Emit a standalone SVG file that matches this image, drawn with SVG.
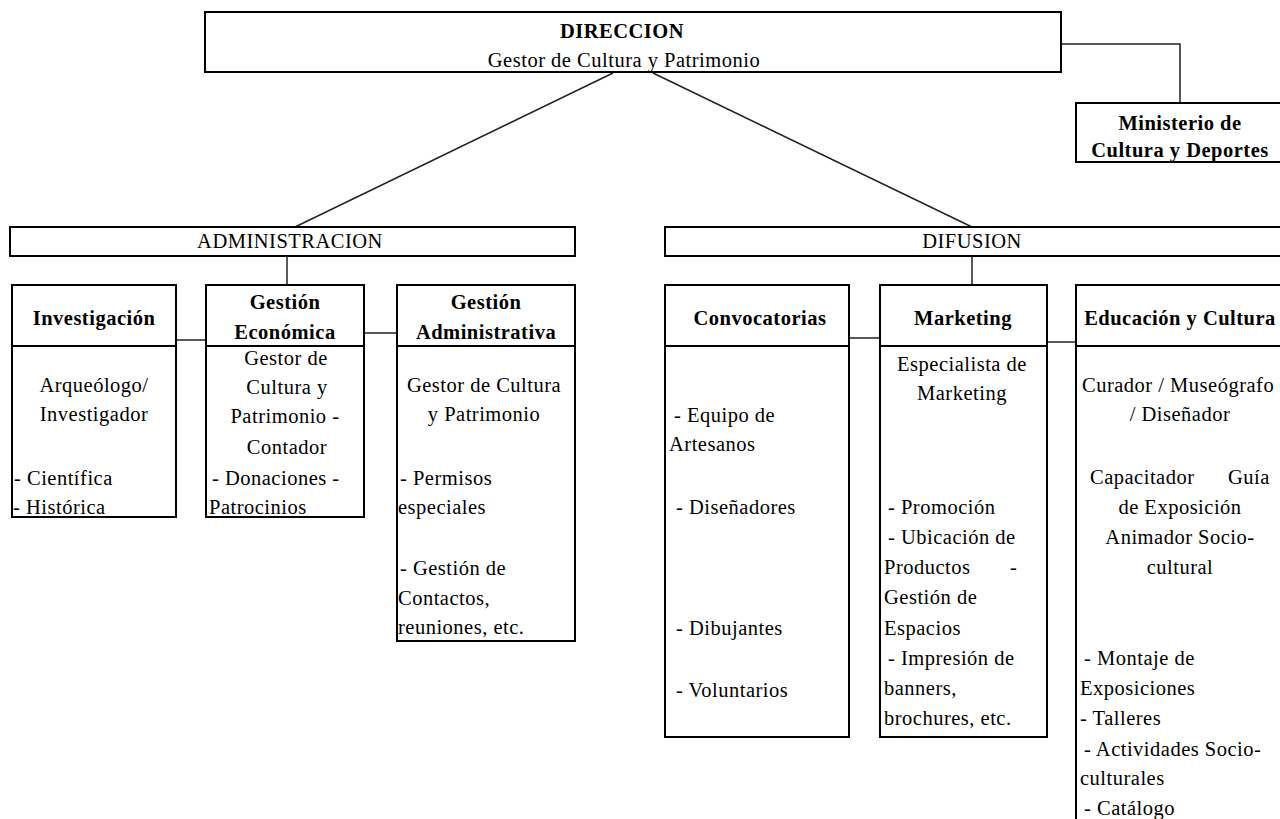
<svg xmlns="http://www.w3.org/2000/svg" width="1280" height="819" viewBox="0 0 1280 819">
<style>
.box{fill:#fff;stroke:#000;stroke-width:2}
.div{stroke:#000;stroke-width:2}
.con{stroke:#222;stroke-width:1.5;fill:none}
text{font-family:"Liberation Serif","Times New Roman",serif;font-size:20.5px;letter-spacing:0.5px;fill:#000}
.b{font-weight:bold}
.c{text-anchor:middle}
</style>
<rect width="1280" height="819" fill="#fff"/>
<g id="connectors">
<polyline class="con" points="1061,44 1180,44 1180,103"/>
<line class="con" x1="613" y1="73" x2="295" y2="227"/>
<line class="con" x1="653" y1="73" x2="972" y2="227"/>
<line class="con" x1="287" y1="256" x2="287" y2="285"/>
<line class="con" x1="972" y1="256" x2="972" y2="285"/>
<line class="con" x1="176" y1="340" x2="208" y2="340"/>
<line class="con" x1="364" y1="333" x2="397" y2="333"/>
<line class="con" x1="849" y1="338" x2="880" y2="338"/>
<line class="con" x1="1047" y1="342" x2="1076" y2="342"/>
</g>
<g id="direccion">
<rect class="box" x="205" y="12" width="856" height="60"/>
<text class="c b" x="622" y="38">DIRECCION</text>
<text class="c" x="624" y="67">Gestor de Cultura y Patrimonio</text>
</g>
<g id="ministerio">
<rect class="box" x="1076" y="103" width="214" height="59"/>
<text class="c b" x="1180" y="130">Ministerio de</text>
<text class="c b" x="1180" y="157">Cultura y Deportes</text>
</g>
<g id="administracion">
<rect class="box" x="10" y="227" width="565" height="29"/>
<text class="c" x="290" y="248">ADMINISTRACION</text>
</g>
<g id="difusion">
<rect class="box" x="665" y="227" width="625" height="29"/>
<text class="c" x="972" y="248">DIFUSION</text>
</g>
<g id="investigacion">
<rect class="box" x="12" y="285" width="164" height="232"/>
<line class="div" x1="12" y1="346" x2="176" y2="346"/>
<text class="c b" x="94" y="325">Investigación</text>
<text class="c" x="94" y="392">Arqueólogo/</text>
<text class="c" x="94" y="421">Investigador</text>
<text x="14" y="485">- Científica</text>
<text x="13" y="514">-  Histórica</text>
</g>
<g id="gestion-economica">
<rect class="box" x="206" y="285" width="158" height="232"/>
<line class="div" x1="206" y1="346" x2="364" y2="346"/>
<text class="c b" x="285" y="309">Gestión</text>
<text class="c b" x="285" y="339">Económica</text>
<text class="c" x="286" y="365">Gestor de</text>
<text class="c" x="287" y="394">Cultura y</text>
<text class="c" x="285" y="423">Patrimonio -</text>
<text class="c" x="287" y="454">Contador</text>
<text x="212" y="485">- Donaciones  -</text>
<text x="209" y="514">Patrocinios</text>
</g>
<g id="gestion-administrativa">
<rect class="box" x="397" y="285" width="178" height="356"/>
<line class="div" x1="397" y1="346" x2="575" y2="346"/>
<text class="c b" x="486" y="309">Gestión</text>
<text class="c b" x="486" y="339">Administrativa</text>
<text class="c" x="484" y="392">Gestor de Cultura</text>
<text class="c" x="484" y="421">y Patrimonio</text>
<text x="400" y="485">- Permisos</text>
<text x="398" y="514">especiales</text>
<text x="400" y="575">- Gestión de</text>
<text x="398" y="605">Contactos,</text>
<text x="398" y="634">reuniones, etc.</text>
</g>
<g id="convocatorias">
<rect class="box" x="665" y="285" width="184" height="452"/>
<line class="div" x1="665" y1="346" x2="849" y2="346"/>
<text class="c b" x="760" y="325">Convocatorias</text>
<text x="674" y="422">- Equipo de</text>
<text x="669" y="451">Artesanos</text>
<text x="676" y="514">- Diseñadores</text>
<text x="676" y="635">- Dibujantes</text>
<text x="676" y="697">- Voluntarios</text>
</g>
<g id="marketing">
<rect class="box" x="880" y="285" width="167" height="452"/>
<line class="div" x1="880" y1="346" x2="1047" y2="346"/>
<text class="c b" x="963" y="325">Marketing</text>
<text class="c" x="962" y="371">Especialista de</text>
<text class="c" x="962" y="400">Marketing</text>
<text x="888" y="514">- Promoción</text>
<text x="888" y="544">- Ubicación de</text>
<text x="884" y="574">Productos</text>
<text x="1010" y="574">-</text>
<text x="884" y="604">Gestión de</text>
<text x="884" y="635">Espacios</text>
<text x="888" y="665">- Impresión de</text>
<text x="884" y="695">banners,</text>
<text x="884" y="725">brochures, etc.</text>
</g>
<g id="educacion-cultura">
<rect class="box" x="1076" y="285" width="214" height="545"/>
<line class="div" x1="1076" y1="346" x2="1290" y2="346"/>
<text class="c b" x="1180" y="325">Educación y Cultura</text>
<text x="1082" y="392">Curador / Museógrafo</text>
<text class="c" x="1180" y="421">/ Diseñador</text>
<text x="1090" y="484">Capacitador</text>
<text x="1228" y="484">Guía</text>
<text class="c" x="1180" y="514">de Exposición</text>
<text class="c" x="1180" y="544">Animador Socio-</text>
<text class="c" x="1180" y="574">cultural</text>
<text x="1084" y="665">- Montaje de</text>
<text x="1080" y="695">Exposiciones</text>
<text x="1080" y="725">-  Talleres</text>
<text x="1084" y="756">- Actividades Socio-</text>
<text x="1080" y="785">culturales</text>
<text x="1084" y="815">- Catálogo</text>
</g>
</svg>
